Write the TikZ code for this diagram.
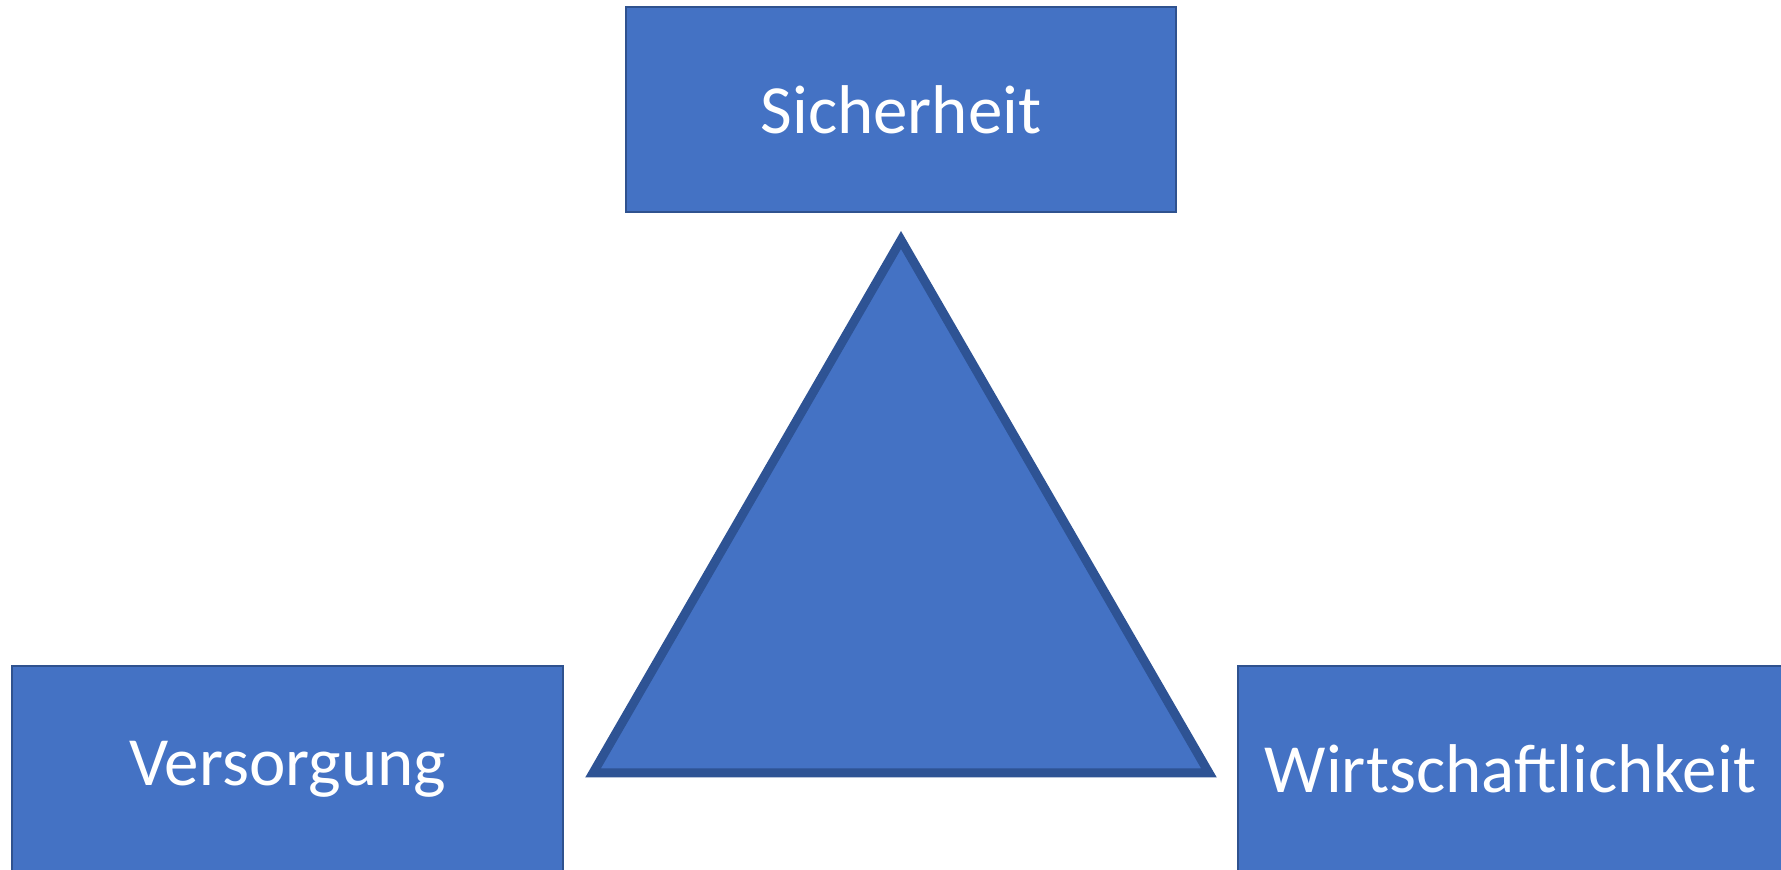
\documentclass[tikz,border=0pt]{standalone}
\usepackage{fontspec}
\setmainfont{Carlito}
\definecolor{boxblue}{HTML}{4472C4}
\definecolor{boxedge}{HTML}{2F528F}
\definecolor{tribord}{HTML}{2E5394}
\begin{document}
\begin{tikzpicture}[x=1pt,y=1pt,
  box/.style={rectangle, fill=boxblue, draw=boxedge, line width=1.2pt, text=white,
    font=\fontsize{69}{80}\selectfont, inner sep=0pt},
  tri/.style={fill=boxblue, draw=tribord, line width=9pt, line join=miter}]
\useasboundingbox (0,0) rectangle (1781,870);
\node[box, minimum width=550pt, minimum height=205pt] (sich) at (901,760.5) {Sicherheit};
\node[box, minimum width=551pt, minimum height=206pt] (vers) at (287.5,101) {Versorgung};
\node[box, minimum width=545pt, minimum height=206pt] (wirt) at (1510.5,101) {Wirtschaftlichkeit};
\coordinate (apex) at (901,630);
\coordinate (bl) at (593,97);
\coordinate (br) at (1209,97);
\draw[tri] (apex) -- (br) -- (bl) -- cycle;
\end{tikzpicture}
\end{document}
